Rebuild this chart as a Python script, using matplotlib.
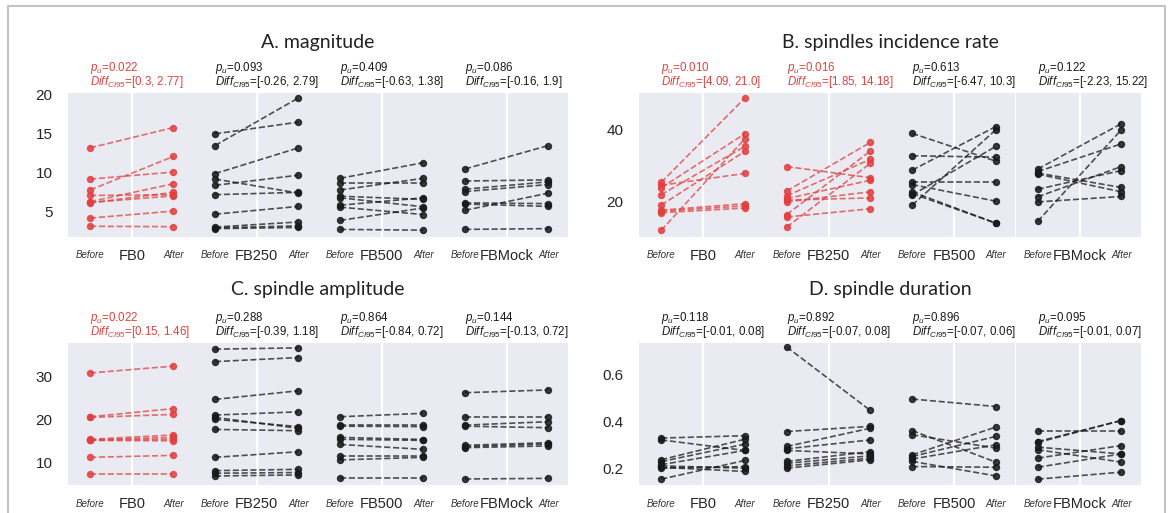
import matplotlib
matplotlib.use("Agg")
import matplotlib.pyplot as plt
from matplotlib.patches import Rectangle

# ---- data ------------------------------------------------------------------
conditions = ["FB0", "FB250", "FB500", "FBMock"]
titles = ["A. magnitude", "B. spindles incidence rate",
          "C. spindle amplitude", "D. spindle duration"]

# A. magnitude (one list per condition)
magnitude_before = [
    [13.1, 9.1, 7.7, 7.0, 6.2, 6.05, 6.1, 4.1, 3.05],
    [14.9, 13.4, 9.8, 9.1, 8.3, 7.1, 4.6, 2.95, 2.85, 2.75],
    [9.2, 8.6, 7.7, 6.9, 6.7, 5.75, 5.5, 3.8, 2.65],
    [10.4, 8.85, 7.8, 7.5, 6.05, 5.9, 5.1, 2.65],
]
magnitude_after = [
    [15.7, 10.0, 12.0, 7.1, 8.5, 7.4, 6.95, 5.0, 3.0],
    [16.4, 19.5, 13.1, 7.3, 9.6, 7.4, 5.6, 3.6, 3.1, 2.9],
    [11.2, 8.6, 9.2, 6.5, 5.55, 6.7, 4.55, 5.4, 2.55],
    [13.4, 9.0, 8.75, 8.4, 5.95, 5.6, 7.3, 2.75],
]
magnitude_p = [0.022, 0.093, 0.409, 0.086]
magnitude_ci = [(0.3, 2.77), (-0.26, 2.79), (-0.63, 1.38), (-0.16, 1.9)]

# B. spindles incidence rate
incidence_before = [
    [25.4, 24.6, 23.9, 22.0, 19.1, 17.7, 17.4, 17.0, 12.1],
    [29.8, 23.0, 21.7, 20.9, 20.5, 20.0, 16.5, 15.8, 13.0],
    [39.0, 32.8, 28.8, 25.6, 24.8, 22.8, 22.3, 21.9, 19.1],
    [29.1, 28.4, 28.0, 27.7, 23.5, 21.4, 20.0, 14.6],
]
incidence_after = [
    [48.8, 27.9, 38.9, 35.4, 34.0, 19.5, 18.9, 18.3, 37.5],
    [26.7, 36.5, 31.8, 26.0, 21.1, 22.8, 34.1, 18.1, 30.7],
    [31.3, 32.4, 40.9, 25.6, 20.2, 14.1, 14.1, 35.4, 40.0],
    [41.7, 36.1, 24.0, 22.8, 28.7, 29.8, 21.5, 40.0],
]
incidence_p = [0.010, 0.016, 0.613, 0.122]
incidence_ci = [(4.09, 21.0), (1.85, 14.18), (-6.47, 10.3), (-2.23, 15.22)]

# C. spindle amplitude
amplitude_before = [
    [30.9, 20.7, 20.55, 15.45, 15.3, 15.25, 15.2, 11.25, 7.3],
    [36.45, 33.55, 24.75, 21.1, 20.55, 20.1, 17.75, 11.25, 8.15, 7.55, 6.9],
    [20.7, 18.7, 18.5, 15.9, 15.45, 14.25, 11.55, 10.65, 6.35],
    [26.3, 20.55, 18.75, 18.5, 14.05, 13.75, 13.5, 6.2],
]
amplitude_after = [
    [32.5, 22.6, 21.25, 16.45, 15.9, 15.45, 15.1, 11.7, 7.3],
    [36.75, 34.5, 26.75, 21.85, 18.0, 18.4, 17.45, 12.55, 8.45, 7.7, 7.15],
    [21.5, 18.7, 18.4, 15.4, 15.2, 13.1, 11.55, 11.25, 6.35],
    [26.95, 20.55, 19.55, 18.15, 14.65, 14.35, 13.9, 6.35],
]
amplitude_p = [0.022, 0.288, 0.864, 0.144]
amplitude_ci = [(0.15, 1.46), (-0.39, 1.18), (-0.84, 0.72), (-0.13, 0.72)]

# D. spindle duration
duration_before = [
    [0.329, 0.321, 0.236, 0.228, 0.215, 0.210, 0.204, 0.200, 0.153],
    [0.719, 0.357, 0.293, 0.283, 0.276, 0.229, 0.221, 0.210, 0.200],
    [0.496, 0.361, 0.343, 0.257, 0.250, 0.239, 0.229, 0.207],
    [0.360, 0.314, 0.310, 0.290, 0.279, 0.243, 0.204, 0.153],
]
duration_after = [
    [0.339, 0.276, 0.324, 0.303, 0.276, 0.200, 0.186, 0.207, 0.233],
    [0.447, 0.379, 0.371, 0.321, 0.261, 0.271, 0.253, 0.243, 0.236],
    [0.464, 0.226, 0.286, 0.376, 0.336, 0.300, 0.167, 0.204],
    [0.360, 0.404, 0.404, 0.261, 0.226, 0.297, 0.261, 0.183],
]
duration_p = [0.118, 0.892, 0.896, 0.095]
duration_ci = [(-0.01, 0.08), (-0.07, 0.08), (-0.07, 0.06), (-0.01, 0.07)]

yticks = [[5, 10, 15, 20], [20, 40], [10, 20, 30], [0.2, 0.4, 0.6]]

# ---- layout (pixels) -------------------------------------------------------
W, H = 1168, 513
BG = "#eaeaf2"
RED = "#e2403f"
BLACK = "#1a1a1a"

panels = [
    dict(before=magnitude_before, after=magnitude_after, p=magnitude_p, ci=magnitude_ci,
         box=(68, 568, 93, 236.5), ylim=(1.74, 20.13), title_y=43),
    dict(before=incidence_before, after=incidence_after, p=incidence_p, ci=incidence_ci,
         box=(639, 1141, 93, 236.5), ylim=(10.4, 50.2), title_y=43),
    dict(before=amplitude_before, after=amplitude_after, p=amplitude_p, ci=amplitude_ci,
         box=(68, 568, 342.5, 485), ylim=(4.8, 38.0), title_y=290),
    dict(before=duration_before, after=duration_after, p=duration_p, ci=duration_ci,
         box=(639, 1141, 342.5, 485), ylim=(0.128, 0.738), title_y=290),
]

plt.rcParams["font.family"] = ["Liberation Sans", "DejaVu Sans"]
plt.rcParams["mathtext.fontset"] = "custom"
plt.rcParams["mathtext.rm"] = "Liberation Sans"
plt.rcParams["mathtext.it"] = "Liberation Sans:italic"

fig = plt.figure(figsize=(W / 100, H / 100), dpi=100)

# light frame around the whole figure
fig.patches.append(Rectangle((8 / W, -0.05), (1165 - 8) / W, 1.05 - 6 / H,
                             transform=fig.transFigure, fill=False,
                             edgecolor="#c4c4c4", lw=1.5))

for k, pan in enumerate(panels):
    x0, x1, top, bot = pan["box"]
    sw = (x1 - x0) / 4
    h = bot - top
    fig.text((x0 + x1) / 2 / W, 1 - pan["title_y"] / H, titles[k],
             ha="center", va="center", fontsize=14, family="Lato", color="#222222")

    for i, cond in enumerate(conditions):
        ax = fig.add_axes([(x0 + i * sw) / W, 1 - bot / H, sw / W, h / H])
        ax.set_facecolor(BG)
        for s in ax.spines.values():
            s.set_visible(False)

        p = pan["p"][i]
        c = RED if p < 0.05 else BLACK
        for b, a in zip(pan["before"][i], pan["after"][i]):
            ax.plot([0, 1], [b, a], ls="--", color=c, lw=1.2, alpha=0.75)
            ax.plot([0, 1], [b, a], ls="none", marker="o", ms=4.3, color=c, alpha=0.85)

        ax.set_xlim(-0.265, 1.235)
        ax.set_ylim(pan["ylim"])

        ax.set_xticks([0.5], [cond])
        ax.set_xticks([0, 1], ["Before", "After"], minor=True)
        ax.tick_params(axis="x", which="major", length=0, labelsize=10.5, pad=9,
                       colors="#262626")
        ax.tick_params(axis="x", which="minor", length=0, labelsize=7, pad=10,
                       colors="#333333")
        for lbl in ax.get_xticklabels(minor=True):
            lbl.set_style("italic")
        ax.grid(True, axis="x", which="major", color="white", lw=1.6)
        ax.grid(False, axis="y")
        ax.set_axisbelow(True)

        ax.set_yticks(yticks[k])
        ax.tick_params(axis="y", length=0, labelsize=11, pad=11, colors="#262626",
                       labelleft=(i == 0))

        # two-line stats annotation above each sub-axis
        lo, hi = pan["ci"][i]
        lines = [(f"$p_u$={p:.3f}", 25), (f"$Diff_{{CI95}}$=[{lo}, {hi}]", 11)]
        for txt, off in lines:
            ax.annotate(txt, xy=(0, 1), xycoords=("data", "axes fraction"),
                        xytext=(0, off), textcoords="offset pixels",
                        ha="left", va="center", fontsize=8.3, color=c)

fig.savefig("out.png", dpi=100)
